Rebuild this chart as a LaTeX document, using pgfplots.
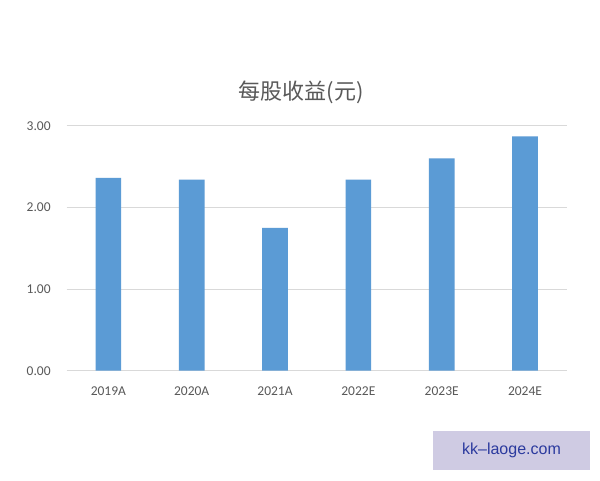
\documentclass[border=0pt]{standalone}
\usepackage{fontspec}
\setmainfont{Carlito}
\newfontfamily\cjk{Noto Sans CJK SC}
\newfontfamily\wm{Liberation Sans}
\usepackage{pgfplots}
\pgfplotsset{compat=1.18}
\definecolor{barblue}{HTML}{5B9BD5}
\definecolor{gridgray}{HTML}{D9D9D9}
\definecolor{txtgray}{HTML}{595959}
\definecolor{wmbg}{HTML}{CFCBE3}
\definecolor{wmtxt}{HTML}{2B3A9E}
\begin{document}
\begin{tikzpicture}[x=1pt,y=1pt]
\useasboundingbox[fill=white] (0,0) rectangle (600,480);
\begin{axis}[
  at={(66.7pt,109.3pt)}, anchor=south west,
  scale only axis, width=500pt, height=245pt,
  xmin=-0.5, xmax=5.5, ymin=0, ymax=3,
  xtick=data,
  xticklabels={2019A,2020A,2021A,2022E,2023E,2024E},
  ytick={0,1,2,3},
  yticklabel style={xshift=-12.5pt},
  y tick label style={/pgf/number format/.cd, fixed, fixed zerofill, precision=2},
  /pgf/number format/assume math mode=true,
  ymajorgrids, grid style={gridgray, line width=0.8pt},
  axis line style={draw=none},
  major tick length=0pt,
  tick label style={font=\fontsize{13.5}{15}\selectfont, text=txtgray},
  xticklabel style={yshift=-13pt},
  ybar, bar width=25.6pt,
]
\addplot[fill=barblue, draw=none] coordinates {(0,2.36) (1,2.34) (2,1.75) (3,2.34) (4,2.60) (5,2.87)};
\end{axis}
\node[text=txtgray, font=\cjk\fontsize{22}{25}\selectfont] at (301,387.5) {每股收益(元)};
\fill[wmbg] (433,10) rectangle (590,49);
\node[text=wmtxt, font=\wm\fontsize{16}{18}\selectfont] at (511.5,29.5) {kk–laoge.com};
\end{tikzpicture}
\end{document}
